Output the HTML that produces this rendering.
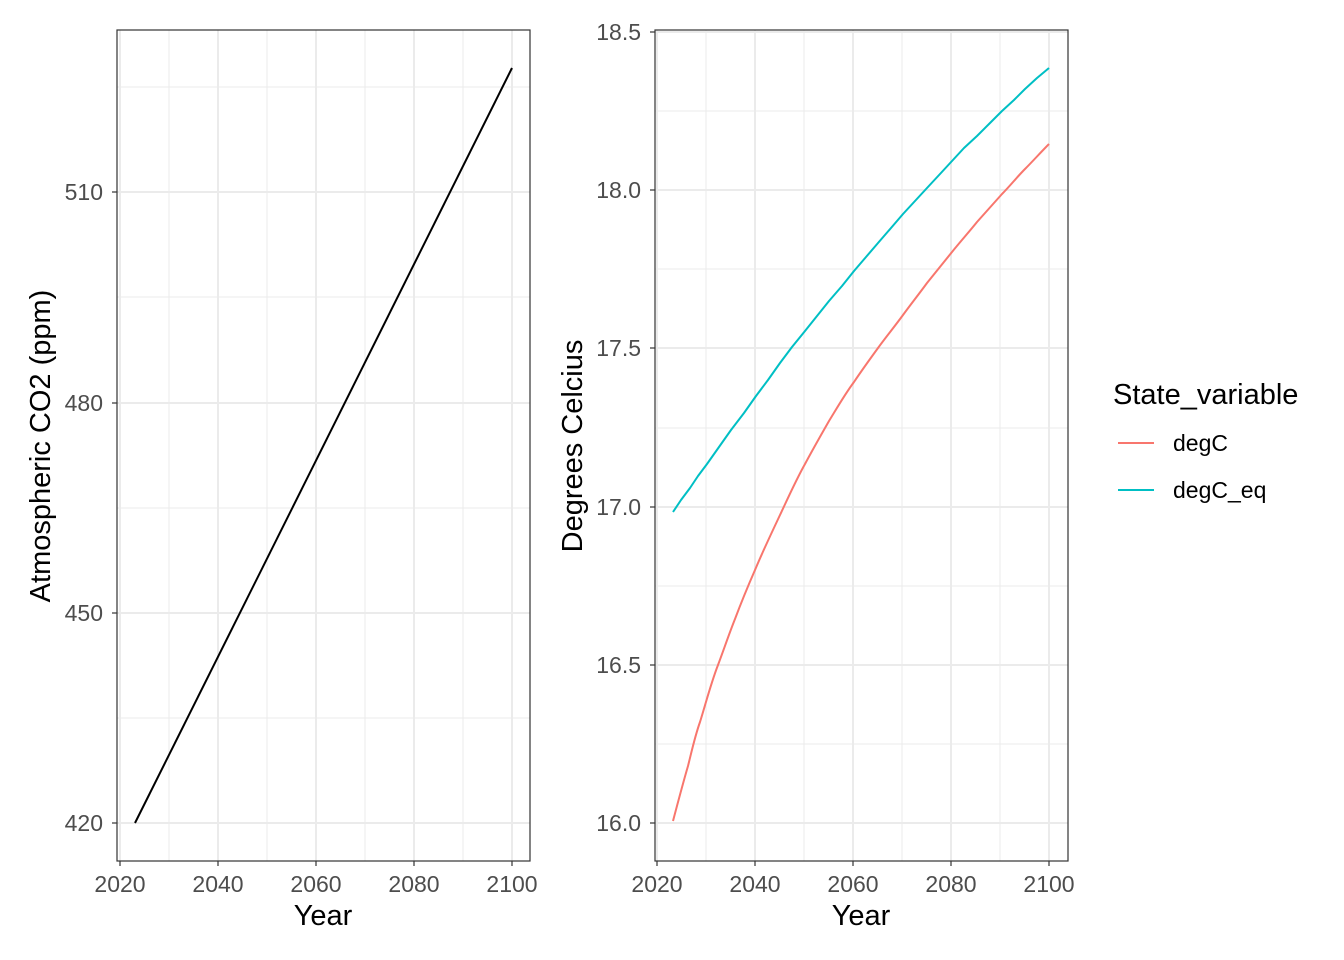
<!DOCTYPE html>
<html><head><meta charset="utf-8"><style>body{margin:0;background:#fff}svg{display:block}text{font-family:"Liberation Sans",sans-serif}</style></head><body>
<svg width="1344" height="960" xmlns="http://www.w3.org/2000/svg">
<!-- Left panel -->
<g stroke="#ebebeb" stroke-width="1">
<line x1="169" y1="30" x2="169" y2="861"/><line x1="267" y1="30" x2="267" y2="861"/><line x1="365" y1="30" x2="365" y2="861"/><line x1="463" y1="30" x2="463" y2="861"/>
<line x1="117" y1="718" x2="530" y2="718"/><line x1="117" y1="508" x2="530" y2="508"/><line x1="117" y1="297" x2="530" y2="297"/><line x1="117" y1="87" x2="530" y2="87"/>
</g>
<g stroke="#ebebeb" stroke-width="2">
<line x1="120" y1="30" x2="120" y2="861"/><line x1="218" y1="30" x2="218" y2="861"/><line x1="316" y1="30" x2="316" y2="861"/><line x1="414" y1="30" x2="414" y2="861"/><line x1="512" y1="30" x2="512" y2="861"/>
<line x1="117" y1="823" x2="530" y2="823"/><line x1="117" y1="613" x2="530" y2="613"/><line x1="117" y1="403" x2="530" y2="403"/><line x1="117" y1="192" x2="530" y2="192"/>
</g>
<line x1="135" y1="823" x2="512" y2="68" stroke="#000" stroke-width="2"/>
<rect x="117" y="30" width="413" height="831" fill="none" stroke="#333" stroke-width="1.2"/>
<g stroke="#333" stroke-width="1.2">
<line x1="120" y1="861" x2="120" y2="866"/><line x1="218" y1="861" x2="218" y2="866"/><line x1="316" y1="861" x2="316" y2="866"/><line x1="414" y1="861" x2="414" y2="866"/><line x1="512" y1="861" x2="512" y2="866"/>
<line x1="112" y1="823" x2="117" y2="823"/><line x1="112" y1="613" x2="117" y2="613"/><line x1="112" y1="403" x2="117" y2="403"/><line x1="112" y1="192" x2="117" y2="192"/>
</g>
<g font-size="23" fill="#4d4d4d" text-anchor="middle">
<text x="120" y="892">2020</text><text x="218" y="892">2040</text><text x="316" y="892">2060</text><text x="414" y="892">2080</text><text x="512" y="892">2100</text>
</g>
<g font-size="23" fill="#4d4d4d" text-anchor="end">
<text x="103" y="831">420</text><text x="103" y="621">450</text><text x="103" y="411">480</text><text x="103" y="200">510</text>
</g>
<text x="323" y="925" font-size="29" text-anchor="middle">Year</text>
<text transform="translate(50,446) rotate(-90)" font-size="29" text-anchor="middle">Atmospheric CO2 (ppm)</text>

<!-- Right panel -->
<g stroke="#ebebeb" stroke-width="1">
<line x1="706" y1="30" x2="706" y2="861"/><line x1="804" y1="30" x2="804" y2="861"/><line x1="902" y1="30" x2="902" y2="861"/><line x1="1000" y1="30" x2="1000" y2="861"/>
<line x1="655" y1="744" x2="1068" y2="744"/><line x1="655" y1="586" x2="1068" y2="586"/><line x1="655" y1="428" x2="1068" y2="428"/><line x1="655" y1="269" x2="1068" y2="269"/><line x1="655" y1="111" x2="1068" y2="111"/>
</g>
<g stroke="#ebebeb" stroke-width="2">
<line x1="657" y1="30" x2="657" y2="861"/><line x1="755" y1="30" x2="755" y2="861"/><line x1="853" y1="30" x2="853" y2="861"/><line x1="951" y1="30" x2="951" y2="861"/><line x1="1049" y1="30" x2="1049" y2="861"/>
<line x1="655" y1="823" x2="1068" y2="823"/><line x1="655" y1="665" x2="1068" y2="665"/><line x1="655" y1="507" x2="1068" y2="507"/><line x1="655" y1="348" x2="1068" y2="348"/><line x1="655" y1="190" x2="1068" y2="190"/><line x1="655" y1="32" x2="1068" y2="32"/>
</g>
<polyline points="673,512 681,500 690,488 698,476 707,464 719,447 731,430 744,413 756,396 768,380 780,363 792,347 805,331 817,316 829,301 842,286 854,271 866,257 878,243 891,228 903,214 915,201 927,188 940,174 952,161 964,148 977,136 989,124 1002,111 1014,100 1025,89 1037,78 1049,68" fill="none" stroke="#00bfc4" stroke-width="2" stroke-linejoin="round"/>
<path d="M673,821 C678,802 683,783 688,766 C692,750 695,736 700,722 C705,706 711,683 718,665 C724,649 729,634 735,619 C741,603 748,586 755,570 C762,553 772,532 780,515 C788,498 796,480 805,464 C813,449 821,435 829,421 C837,408 845,394 854,382 C862,370 870,359 878,348 C886,337 895,326 903,315 C911,304 919,294 927,283 C935,273 944,262 952,252 C960,242 969,232 977,222 C985,213 994,203 1002,194 C1010,186 1017,177 1025,169 C1033,161 1041,152 1049,144" fill="none" stroke="#f8766d" stroke-width="2"/>
<rect x="655" y="30" width="413" height="831" fill="none" stroke="#333" stroke-width="1.2"/>
<g stroke="#333" stroke-width="1.2">
<line x1="657" y1="861" x2="657" y2="866"/><line x1="755" y1="861" x2="755" y2="866"/><line x1="853" y1="861" x2="853" y2="866"/><line x1="951" y1="861" x2="951" y2="866"/><line x1="1049" y1="861" x2="1049" y2="866"/>
<line x1="650" y1="823" x2="655" y2="823"/><line x1="650" y1="665" x2="655" y2="665"/><line x1="650" y1="507" x2="655" y2="507"/><line x1="650" y1="348" x2="655" y2="348"/><line x1="650" y1="190" x2="655" y2="190"/><line x1="650" y1="32" x2="655" y2="32"/>
</g>
<g font-size="23" fill="#4d4d4d" text-anchor="middle">
<text x="657" y="892">2020</text><text x="755" y="892">2040</text><text x="853" y="892">2060</text><text x="951" y="892">2080</text><text x="1049" y="892">2100</text>
</g>
<g font-size="23" fill="#4d4d4d" text-anchor="end">
<text x="641" y="831">16.0</text><text x="641" y="673">16.5</text><text x="641" y="515">17.0</text><text x="641" y="356">17.5</text><text x="641" y="198">18.0</text><text x="641" y="40">18.5</text>
</g>
<text x="861" y="925" font-size="29" text-anchor="middle">Year</text>
<text transform="translate(582,446) rotate(-90)" font-size="29" text-anchor="middle">Degrees Celcius</text>

<!-- Legend -->
<text x="1113" y="404" font-size="29">State_variable</text>
<line x1="1118" y1="443" x2="1154" y2="443" stroke="#f8766d" stroke-width="2"/>
<line x1="1118" y1="490" x2="1154" y2="490" stroke="#00bfc4" stroke-width="2"/>
<text x="1173" y="451" font-size="23">degC</text>
<text x="1173" y="498" font-size="23">degC_eq</text>
</svg>
</body></html>
